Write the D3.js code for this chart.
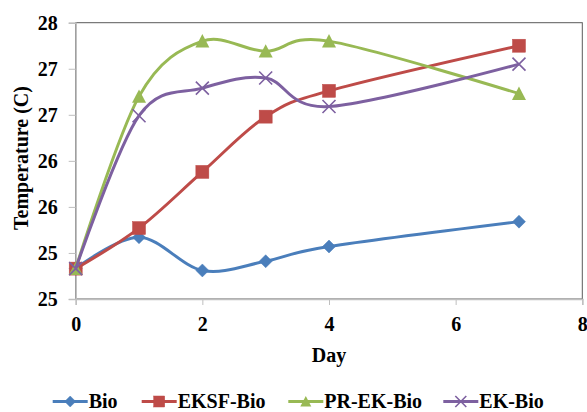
<!DOCTYPE html>
<html>
<head>
<meta charset="utf-8">
<script src="https://cdn.jsdelivr.net/npm/d3@7"></script>
<style>
  html, body { margin: 0; padding: 0; background: #fff; }
  svg { display: block; }
  text { font-family: "Liberation Serif", "Times New Roman", serif; font-weight: bold; fill: #000; }
</style>
</head>
<body>
<svg id="chart" width="587" height="412"></svg>
<script>
const days = [0, 1, 2, 3, 4, 7];
const bio = [25.33, 25.67, 25.31, 25.41, 25.57, 25.84];
const eksfBio = [25.33, 25.77, 26.38, 26.98, 27.26, 27.75];
const prEkBio = [25.33, 27.20, 27.80, 27.69, 27.80, 27.23];
const ekBio = [25.33, 26.99, 27.29, 27.40, 27.09, 27.55];
const seriesNames = ["Bio", "EKSF-Bio", "PR-EK-Bio", "EK-Bio"];
const seriesColors = ["#4A7EBB", "#BE4B48", "#98B954", "#7D60A0"];
const seriesSymbols = ["diamond", "square", "triangle", "cross"];
const xTicks = [0, 2, 4, 6, 8];
const yTicks = [25, 25.5, 26, 26.5, 27, 27.5, 28];
const yTickLabels = ["25", "25", "26", "26", "27", "27", "28"];
const xTitle = "Day";
const yTitle = "Temperature (C)";

const seriesValues = [bio, eksfBio, prEkBio, ekBio];

const svg = d3.select("#chart");
const L = 75.7, R = 582.3, T = 22.7, B = 299;
const x = d3.scaleLinear().domain([0, 8]).range([L, R]);
const y = d3.scaleLinear().domain([25, 28]).range([B, T]);
const FS = 20;

// plot frame
svg.append("rect").attr("x", L).attr("y", T).attr("width", R - L).attr("height", B - T)
  .attr("fill", "none").attr("stroke", "#5a5a5a").attr("stroke-width", 1);

// axes
const xAxis = svg.append("g").attr("transform", `translate(0,${B})`)
  .call(d3.axisBottom(x).tickValues(xTicks).tickSize(6).tickPadding(12).tickFormat(d3.format("d")));
const yAxis = svg.append("g").attr("transform", `translate(${L},0)`)
  .call(d3.axisLeft(y).tickValues(yTicks).tickSize(7).tickPadding(11).tickFormat((d, i) => yTickLabels[i]));
[xAxis, yAxis].forEach(g => {
  g.attr("font-family", null).attr("font-size", null);
  g.select(".domain").attr("stroke", "#bfbfbf").attr("stroke-width", 1.5);
  g.selectAll(".tick line").attr("stroke", "#bfbfbf").attr("stroke-width", 1);
  g.selectAll(".tick text").attr("font-size", FS).attr("fill", "#000");
});

// titles
svg.append("text").attr("x", (L + R) / 2).attr("y", 362).attr("text-anchor", "middle")
  .attr("font-size", FS).text(xTitle);
svg.append("text").attr("transform", "translate(28,158) rotate(-90)").attr("text-anchor", "middle")
  .attr("font-size", FS).text(yTitle);

// marker drawing
function drawMarker(g, type, color, cx, cy, s) {
  if (type === "diamond") {
    g.append("path").attr("d", `M${cx},${cy - s} L${cx + s},${cy} L${cx},${cy + s} L${cx - s},${cy} Z`)
      .attr("fill", color).attr("stroke", color).attr("stroke-width", 0.5);
  } else if (type === "square") {
    g.append("rect").attr("x", cx - s).attr("y", cy - s).attr("width", 2 * s).attr("height", 2 * s)
      .attr("fill", color).attr("stroke", color).attr("stroke-width", 0.5);
  } else if (type === "triangle") {
    g.append("path").attr("d", `M${cx},${cy - s} L${cx + s},${cy + s * 0.9} L${cx - s},${cy + s * 0.9} Z`)
      .attr("fill", color);
  } else {
    g.append("path").attr("d", `M${cx - s},${cy - s} L${cx + s},${cy + s} M${cx - s},${cy + s} L${cx + s},${cy - s}`)
      .attr("stroke", color).attr("stroke-width", 1.6).attr("fill", "none");
  }
}

const line = d3.line().x(d => x(d[0])).y(d => y(d[1])).curve(d3.curveCardinal.tension(0));

seriesValues.forEach((vals, i) => {
  const pts = days.map((d, j) => [d, vals[j]]);
  const g = svg.append("g");
  g.append("path").attr("d", line(pts)).attr("fill", "none")
    .attr("stroke", seriesColors[i]).attr("stroke-width", 3);
  const sizes = [6.5, 6.5, 7, 6.5];
  pts.forEach(p => drawMarker(g, seriesSymbols[i], seriesColors[i], x(p[0]), y(p[1]), sizes[i]));
});

// legend
const legendX = [52.7, 141.7, 288.3, 443.3];
const legendY = 401.5;
seriesNames.forEach((name, i) => {
  const g = svg.append("g");
  const x0 = legendX[i], x1 = x0 + 35;
  g.append("line").attr("x1", x0).attr("x2", x1).attr("y1", legendY).attr("y2", legendY)
    .attr("stroke", seriesColors[i]).attr("stroke-width", 3);
  drawMarker(g, seriesSymbols[i], seriesColors[i], (x0 + x1) / 2, legendY, 5.5);
  g.append("text").attr("x", x1 + 1).attr("y", legendY + 6.5)
    .attr("font-size", FS).text(name);
});
</script>
</body>
</html>
